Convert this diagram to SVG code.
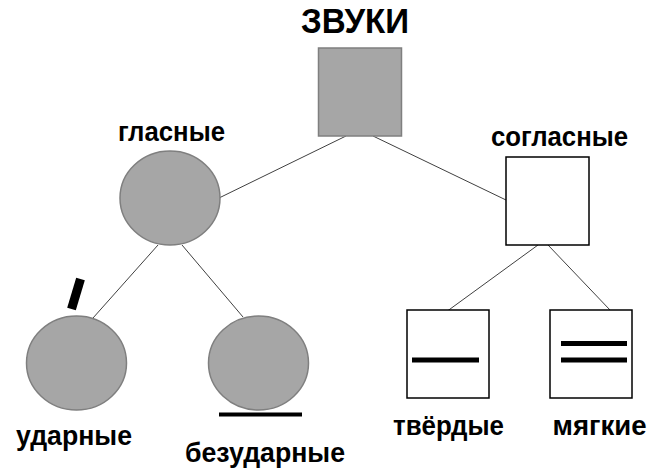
<svg xmlns="http://www.w3.org/2000/svg" width="662" height="472" viewBox="0 0 662 472">
<style>
.t{font-family:"Liberation Sans",Arial,sans-serif;font-weight:bold;fill:#000;text-anchor:middle}
.lbl{font-size:27.5px}
.gray{fill:#a6a6a6;stroke:#7f7f7f;stroke-width:1.5}
.white{fill:#fff;stroke:#000;stroke-width:1.5}
.con{stroke:#404040;stroke-width:1;fill:none}
.mark{stroke:#000;stroke-width:5;fill:none}
</style>
<rect width="662" height="472" fill="#fff"/>
<g id="connectors">
<line class="con" x1="346" y1="136" x2="219" y2="198"/>
<line class="con" x1="373" y1="136" x2="506" y2="200"/>
<line class="con" x1="158" y1="245" x2="93" y2="318"/>
<line class="con" x1="182" y1="245" x2="243" y2="317"/>
<line class="con" x1="538" y1="245" x2="446" y2="312"/>
<line class="con" x1="548" y1="245" x2="610" y2="310"/>
</g>
<g id="zvuki">
<text class="t" x="355" y="33" font-size="34.5" textLength="108" lengthAdjust="spacingAndGlyphs">ЗВУКИ</text>
<rect class="gray" x="318.5" y="48" width="83" height="88"/>
</g>
<g id="glasnye">
<text class="t lbl" x="171.5" y="141" textLength="107" lengthAdjust="spacingAndGlyphs">гласные</text>
<ellipse class="gray" cx="170" cy="198" rx="50" ry="47"/>
</g>
<g id="soglasnye">
<text class="t lbl" x="559.5" y="146" textLength="137" lengthAdjust="spacingAndGlyphs">согласные</text>
<rect class="white" x="506" y="157" width="83" height="88"/>
</g>
<g id="udarnye">
<ellipse class="gray" cx="76.5" cy="363" rx="50" ry="47"/>
<line x1="80.5" y1="279" x2="71.5" y2="309" stroke="#000" stroke-width="9"/>
<text class="t lbl" x="74" y="445" textLength="116" lengthAdjust="spacingAndGlyphs">ударные</text>
</g>
<g id="bezudarnye">
<ellipse class="gray" cx="258.5" cy="363" rx="50" ry="47"/>
<line x1="219" y1="414.5" x2="302" y2="414.5" stroke="#000" stroke-width="4"/>
<text class="t lbl" x="265" y="462" textLength="160" lengthAdjust="spacingAndGlyphs">безударные</text>
</g>
<g id="tverdye">
<rect class="white" x="407" y="310" width="82" height="88"/>
<line class="mark" x1="412" y1="360" x2="479" y2="360"/>
<text class="t lbl" x="448.5" y="435" textLength="111" lengthAdjust="spacingAndGlyphs">твёрдые</text>
</g>
<g id="myagkie">
<rect class="white" x="550" y="310" width="82" height="88"/>
<line class="mark" x1="561" y1="343.5" x2="627" y2="343.5"/>
<line class="mark" x1="561" y1="360" x2="627" y2="360"/>
<text class="t lbl" x="599.5" y="435" textLength="94" lengthAdjust="spacingAndGlyphs">мягкие</text>
</g>
</svg>
